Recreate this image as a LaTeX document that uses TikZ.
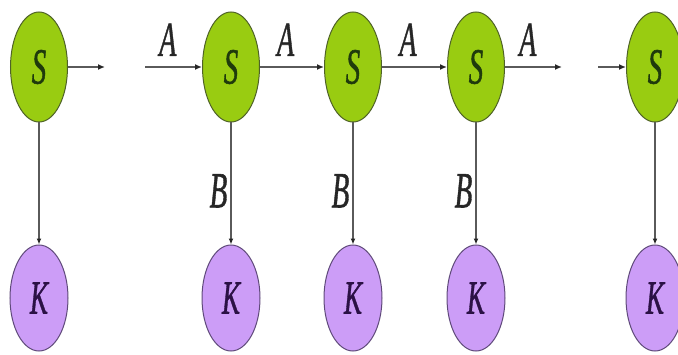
\documentclass[tikz,border=0pt]{standalone}
\usepackage{fontspec}
\newfontfamily\letterfont{Liberation Serif}[ItalicFeatures={FakeBold=1.2}]
\usepackage{graphicx}
\usetikzlibrary{positioning, arrows.meta, shapes.geometric}
\definecolor{StateGreen}{HTML}{99CC11}
\definecolor{StateEdge}{HTML}{4F6228}
\definecolor{StateText}{HTML}{1F3A0C}
\definecolor{KeyViolet}{HTML}{CC9DF7}
\definecolor{KeyEdge}{HTML}{5F4A7A}
\definecolor{KeyText}{HTML}{2B1145}
\definecolor{ArrowGray}{HTML}{5A5A5A}
\newcommand{\tallit}[1]{\scalebox{1}[1.75]{\letterfont\itshape #1}}

\tikzset{
  statenode/.style={ellipse, draw=StateEdge, line width=1pt, fill=StateGreen,
    minimum width=57pt, minimum height=110pt, inner sep=0pt, text=StateText,
    font=\fontsize{29}{30}\selectfont},
  keynode/.style={ellipse, draw=KeyEdge, line width=1pt, fill=KeyViolet,
    minimum width=58pt, minimum height=106pt, inner sep=0pt, text=KeyText,
    font=\fontsize{27}{28}\selectfont},
  flowarrow/.style={draw=ArrowGray, line width=2.2pt, -{Latex[length=7pt,width=6pt,color=black!85]}},
  downarrow/.style={draw=ArrowGray, line width=1.4pt, -{Latex[length=6pt,width=5pt,color=black!85]}},
  alabel/.style={pos=0.4, anchor=south, yshift=10pt, inner sep=0pt, text=black!85,
    font=\fontsize{28}{30}\selectfont},
  blabel/.style={pos=0.56, left, inner sep=3pt, text=black!85,
    font=\fontsize{29}{30}\selectfont}
}

\begin{document}
\begin{tikzpicture}[x=1pt, y=1pt]
  \useasboundingbox (0,0) rectangle (678,354);

  \node[statenode] (s0) at (39,287)  {\tallit{S}};
  \node[statenode] (s1) at (231,287) {\tallit{S}};
  \node[statenode] (s2) at (353,287) {\tallit{S}};
  \node[statenode] (s3) at (476,287) {\tallit{S}};
  \node[statenode] (s4) at (655,287) {\tallit{S}};

  \node[keynode] (k0) at (39,56)  {\tallit{K}};
  \node[keynode] (k1) at (231,56) {\tallit{K}};
  \node[keynode] (k2) at (353,56) {\tallit{K}};
  \node[keynode] (k3) at (476,56) {\tallit{K}};
  \node[keynode] (k4) at (655,56) {\tallit{K}};

  \coordinate (t0) at (105,287);
  \coordinate (h1) at (145,287);
  \coordinate (t3) at (562,287);
  \coordinate (h4) at (598,287);

  \draw[flowarrow] (s0) -- (t0);
  \draw[flowarrow] (h1) -- node[alabel] {\tallit{A}} (s1);
  \draw[flowarrow] (s1) -- node[alabel] {\tallit{A}} (s2);
  \draw[flowarrow] (s2) -- node[alabel] {\tallit{A}} (s3);
  \draw[flowarrow] (s3) -- node[alabel] {\tallit{A}} (t3);
  \draw[flowarrow] (h4) -- (s4);

  \foreach \i in {0,4}
    \draw[downarrow] (s\i) -- (k\i);
  \foreach \i in {1,2,3}
    \draw[downarrow] (s\i) -- node[blabel] {\tallit{B}} (k\i);
\end{tikzpicture}
\end{document}
